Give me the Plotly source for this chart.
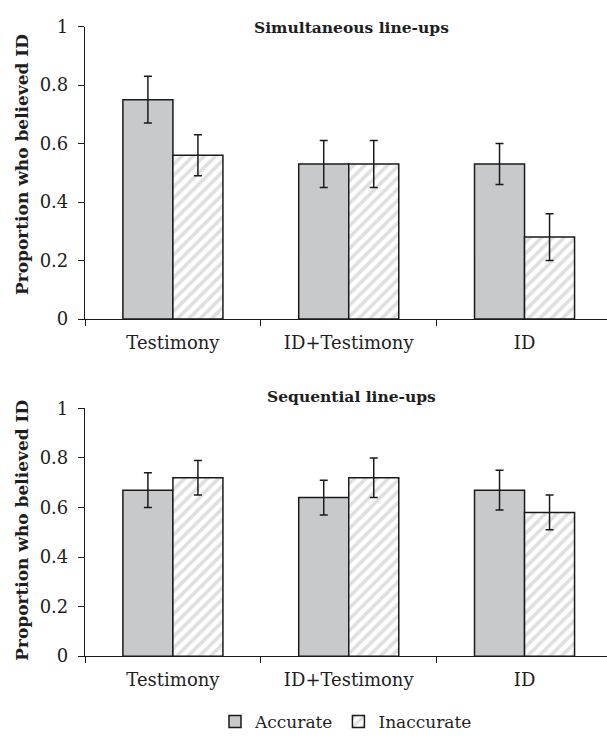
import plotly.graph_objects as go

# Conditions on the x axis
conditions = ["Testimony", "ID+Testimony", "ID"]

# Simultaneous line-ups: proportion who believed the ID, with error margins
sim_accurate = [0.75, 0.53, 0.53]
sim_accurate_err = [0.08, 0.08, 0.07]
sim_inaccurate = [0.56, 0.53, 0.28]
sim_inaccurate_err = [0.07, 0.08, 0.08]

# Sequential line-ups
seq_accurate = [0.67, 0.64, 0.67]
seq_accurate_err = [0.07, 0.07, 0.08]
seq_inaccurate = [0.72, 0.72, 0.58]
seq_inaccurate_err = [0.07, 0.08, 0.07]

y_ticks = [0, 0.2, 0.4, 0.6, 0.8, 1]
y_tick_text = ["0", "0.2", "0.4", "0.6", "0.8", "1"]

W, H = 607, 740
FONT = "DejaVu Serif"
GREY = "#c8c9cb"
LINE = "#1a1a1a"
TEXT = "#1e1e1e"


def err(vals):
    return dict(type="data", array=vals, visible=True, color=LINE,
                thickness=1.5, width=4)


def accurate_bar(y, e, xa, ya, show):
    return go.Bar(x=conditions, y=y, error_y=err(e), name="Accurate",
                  xaxis=xa, yaxis=ya, showlegend=show, legendgroup="acc",
                  marker=dict(color=GREY, line=dict(color=LINE, width=1.5)))


def inaccurate_bar(y, e, xa, ya, show):
    return go.Bar(x=conditions, y=y, error_y=err(e), name="Inaccurate",
                  xaxis=xa, yaxis=ya, showlegend=show, legendgroup="inacc",
                  marker=dict(color="white", line=dict(color=LINE, width=1.5),
                              pattern=dict(shape="/", fgcolor="#c0c0c0",
                                           bgcolor="white", size=8,
                                           solidity=0.45)))


fig = go.Figure([
    accurate_bar(sim_accurate, sim_accurate_err, "x", "y", True),
    inaccurate_bar(sim_inaccurate, sim_inaccurate_err, "x", "y", True),
    accurate_bar(seq_accurate, seq_accurate_err, "x2", "y2", False),
    inaccurate_bar(seq_inaccurate, seq_inaccurate_err, "x2", "y2", False),
])

x_left = 85 / W
x_common = dict(domain=[x_left, 1], range=[-0.5, 2.469], type="category",
                tickson="boundaries", ticks="outside", ticklen=6,
                tickcolor=LINE, tickwidth=1, showline=True, linecolor=LINE,
                linewidth=1.2, showgrid=False, zeroline=False,
                ticklabelstandoff=7,
                tickfont=dict(family=FONT, size=18, color=TEXT))
y_common = dict(range=[0, 1], tickvals=y_ticks, ticktext=y_tick_text,
                ticks="outside", ticklen=6, tickcolor=LINE, tickwidth=1,
                showline=True, linecolor=LINE, linewidth=1.2, showgrid=False,
                zeroline=False, ticklabelstandoff=6,
                tickfont=dict(family=FONT, size=18, color=TEXT))

fig.update_layout(
    width=W, height=H, autosize=False,
    margin=dict(l=0, r=0, t=0, b=0),
    paper_bgcolor="white", plot_bgcolor="white",
    barmode="group", bargap=0.431, bargroupgap=0,
    xaxis=dict(anchor="y", **x_common),
    yaxis=dict(anchor="x", domain=[1 - 317 / H, 1 - 16 / H], **y_common),
    xaxis2=dict(anchor="y2", **x_common),
    yaxis2=dict(anchor="x2", domain=[1 - 664 / H, 1 - 409 / H], **y_common),
    legend=dict(orientation="h", x=346 / W, xanchor="center",
                y=1 - 732 / H, yanchor="middle",
                font=dict(family=FONT, size=17, color=TEXT),
                itemwidth=30, traceorder="normal"),
    font=dict(family=FONT, color=TEXT),
)

panel_titles = [("Simultaneous line-ups", 17), ("Sequential line-ups", 397)]
for text, ypix in panel_titles:
    fig.add_annotation(text=f"<b>{text}</b>", xref="paper", yref="paper",
                       x=351 / W, y=1 - ypix / H, showarrow=False,
                       xanchor="center", yanchor="middle",
                       font=dict(family=FONT, size=15.5, color=TEXT))

for ypix in (158.5, 535):
    fig.add_annotation(text="<b>Proportion who believed ID</b>",
                       xref="paper", yref="paper", x=22 / W, y=1 - ypix / H,
                       textangle=-90, showarrow=False, xanchor="center",
                       yanchor="middle",
                       font=dict(family=FONT, size=17, color=TEXT))

fig.write_html("out.html")
